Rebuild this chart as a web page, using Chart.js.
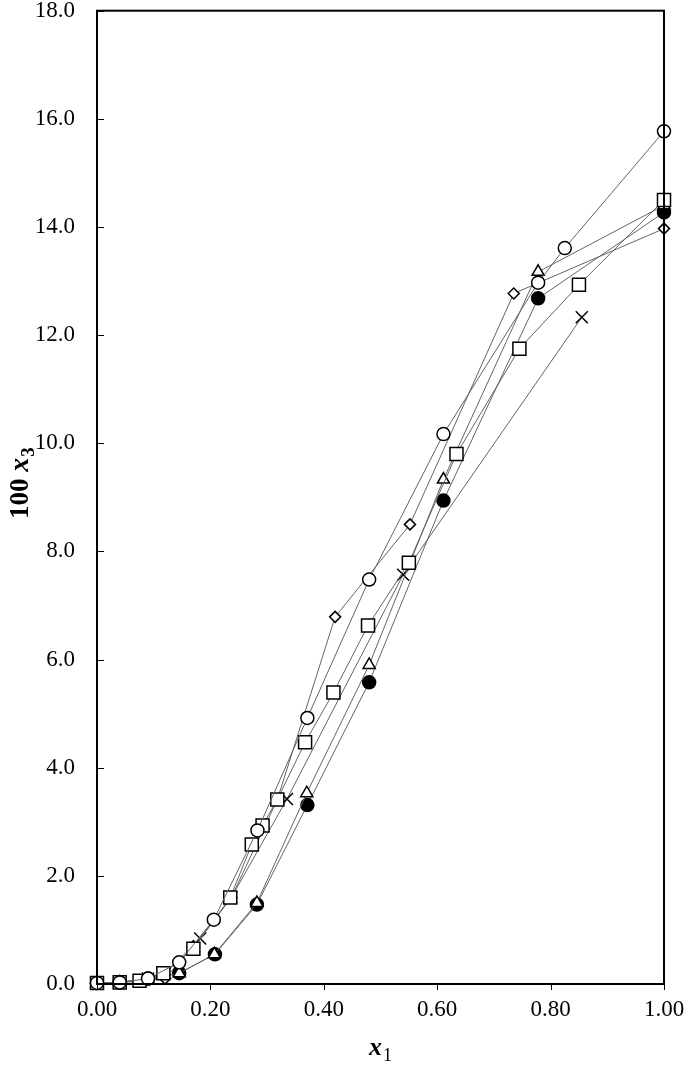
<!DOCTYPE html>
<html>
<head>
<meta charset="utf-8">
<script src="https://cdn.jsdelivr.net/npm/chart.js@4.4.0/dist/chart.umd.min.js"></script>
<style>
html,body{margin:0;padding:0;background:#fff;}
#wrap{width:685px;height:1066px;position:relative;}
</style>
</head>
<body>
<div id="wrap"><canvas id="c"></canvas></div>
<script>
// x1 (mole fraction) and 100*x3 values
const circleX   = [0.000, 0.040, 0.090, 0.145, 0.206, 0.283, 0.371, 0.480, 0.611, 0.778, 0.825, 1.000];
const circleY   = [0.02, 0.03, 0.10, 0.40, 1.19, 2.84, 4.92, 7.48, 10.17, 12.97, 13.61, 15.77];
const squareX   = [0.000, 0.040, 0.075, 0.117, 0.170, 0.235, 0.273, 0.292, 0.318, 0.367, 0.417, 0.478, 0.550, 0.634, 0.745, 0.850, 1.000];
const squareY   = [0.02, 0.03, 0.06, 0.20, 0.65, 1.60, 2.58, 2.93, 3.41, 4.47, 5.39, 6.63, 7.79, 9.80, 11.75, 12.93, 14.50];
const triangleX = [0.000, 0.040, 0.090, 0.145, 0.207, 0.282, 0.370, 0.480, 0.611, 0.778, 1.000];
const triangleY = [0.02, 0.03, 0.08, 0.20, 0.55, 1.50, 3.53, 5.90, 9.33, 13.17, 14.40];
const dotX      = [0.000, 0.040, 0.090, 0.145, 0.208, 0.282, 0.371, 0.480, 0.611, 0.778, 1.000];
const dotY      = [0.02, 0.03, 0.10, 0.20, 0.55, 1.47, 3.31, 5.58, 8.94, 12.68, 14.27];
const diamondX  = [0.000, 0.040, 0.075, 0.120, 0.170, 0.237, 0.318, 0.420, 0.552, 0.735, 1.000];
const diamondY  = [0.02, 0.03, 0.05, 0.10, 0.70, 1.60, 3.41, 6.79, 8.50, 12.77, 13.97];
const crossX    = [0.000, 0.040, 0.090, 0.120, 0.182, 0.237, 0.335, 0.540, 0.855];
const crossY    = [0.02, 0.03, 0.10, 0.20, 0.84, 1.60, 3.42, 7.57, 12.33];

const xTicks = [0, 0.2, 0.4, 0.6, 0.8, 1.0];
const yTicks = [0, 2, 4, 6, 8, 10, 12, 14, 16, 18];

function pts(xs, ys){ return xs.map((x,i)=>({x:x, y:ys[i]})); }

const LINE = '#646464';
function ds(xs, ys, style, radius, fill){
  return {
    data: pts(xs, ys),
    showLine: true,
    borderColor: LINE,
    borderWidth: 1,
    pointStyle: style,
    pointRadius: radius,
    pointHoverRadius: radius,
    pointBackgroundColor: fill,
    pointBorderColor: '#000',
    pointBorderWidth: 1.5,
    clip: false,
    tension: 0
  };
}

const serif = "'Liberation Serif','Times New Roman',serif";

const framePlugin = {
  id: 'frame',
  afterDraw(chart){
    const ctx = chart.ctx;
    const a = chart.chartArea;
    const xs = chart.scales.x, ys = chart.scales.y;
    ctx.save();
    ctx.strokeStyle = '#000';
    ctx.lineWidth = 2;
    ctx.strokeRect(a.left, a.top, a.right - a.left, a.bottom - a.top);
    ctx.lineWidth = 1;
    ctx.beginPath();
    yTicks.forEach(v => {
      const p = Math.round(ys.getPixelForValue(v)) + 0.5;
      ctx.moveTo(a.left, p); ctx.lineTo(a.left + 7, p);
    });
    xTicks.forEach(v => {
      const p = Math.round(xs.getPixelForValue(v)) + 0.5;
      ctx.moveTo(p, a.bottom); ctx.lineTo(p, a.bottom + 6);
    });
    ctx.stroke();

    // x-axis title: x1 (bold italic x, subscript 1)
    ctx.fillStyle = '#000';
    ctx.textBaseline = 'alphabetic';
    const fx = "bold italic 26px " + serif;
    const fs = "18px " + serif;
    ctx.font = fx; const wx = ctx.measureText('x').width;
    ctx.font = fs; const w1 = ctx.measureText('1').width;
    const cx = (a.left + a.right) / 2;
    let sx = cx - (wx + w1 + 1) / 2;
    const by = 1055;
    ctx.font = fx; ctx.fillText('x', sx, by);
    ctx.font = fs; ctx.fillText('1', sx + wx + 1, by + 6);

    // y-axis title: 100 x3
    ctx.save();
    ctx.translate(28, 483);
    ctx.rotate(-Math.PI / 2);
    const f100 = "bold 27px " + serif;
    const fX = "bold italic 28px " + serif;
    const f3 = "bold 19px " + serif;
    ctx.font = f100; const w100 = ctx.measureText('100 ').width;
    ctx.font = fX; const wX = ctx.measureText('x').width;
    ctx.font = f3; const w3 = ctx.measureText('3').width;
    let tx = -(w100 + wX + w3 + 1) / 2;
    ctx.font = f100; ctx.fillText('100 ', tx, 0);
    ctx.font = fX; ctx.fillText('x', tx + w100, 0);
    ctx.font = f3; ctx.fillText('3', tx + w100 + wX + 1, 6);
    ctx.restore();
    ctx.restore();
  }
};

new Chart(document.getElementById('c'), {
  type: 'scatter',
  data: {
    datasets: [
      ds(circleX, circleY, 'circle', 6.5, '#fff'),
      ds(squareX, squareY, 'rect', 9.2, '#fff'),
      ds(triangleX, triangleY, 'triangle', 7, '#fff'),
      ds(dotX, dotY, 'circle', 6.5, '#000'),
      ds(diamondX, diamondY, 'rectRot', 5.5, '#fff'),
      ds(crossX, crossY, 'crossRot', 8.5, '#000')
    ]
  },
  options: {
    responsive: true,
    maintainAspectRatio: false,
    animation: false,
    events: [],
    layout: { padding: { top: 8, right: 21, left: 0, bottom: 0 } },
    plugins: { legend: { display: false }, tooltip: { enabled: false } },
    scales: {
      x: {
        type: 'linear', min: 0, max: 1,
        afterFit(s){ s.height = 82; s.paddingLeft = 0; s.paddingRight = 0; },
        afterBuildTicks(s){ s.ticks = xTicks.map(v => ({value: v})); },
        grid: { display: false, drawTicks: false },
        border: { display: false },
        ticks: {
          padding: 12, color: '#000',
          font: { family: serif, size: 23 },
          callback: v => Number(v).toFixed(2),
          maxRotation: 0
        }
      },
      y: {
        type: 'linear', min: 0, max: 18,
        afterFit(s){ s.width = 97; s.paddingTop = 0; s.paddingBottom = 0; },
        afterBuildTicks(s){ s.ticks = yTicks.map(v => ({value: v})); },
        grid: { display: false, drawTicks: false },
        border: { display: false },
        ticks: {
          padding: 22, color: '#000',
          font: { family: serif, size: 23 },
          callback: v => Number(v).toFixed(1)
        }
      }
    }
  },
  plugins: [framePlugin]
});
</script>
</body>
</html>
